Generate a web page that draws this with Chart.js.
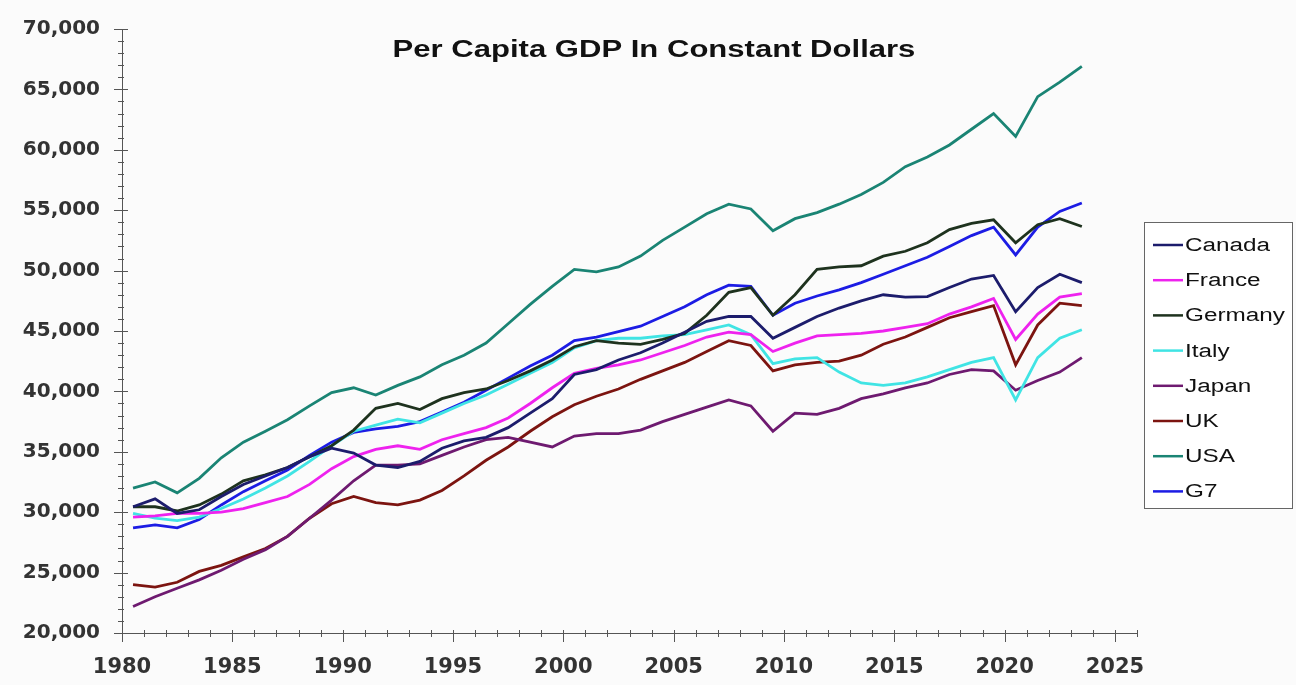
<!DOCTYPE html>
<html>
<head>
<meta charset="utf-8">
<script src="https://cdn.jsdelivr.net/npm/chart.js@4/dist/chart.umd.min.js"></script>
<style>
  html, body { margin: 0; padding: 0; background: #fbfbfb; }
  #wrap { width: 1296px; height: 685px; }
</style>
</head>
<body>
<div id="wrap"><canvas id="myChart" width="1296" height="685"></canvas></div>
<script>
// annual values, plotted mid-year
const years = [1980, 1981, 1982, 1983, 1984, 1985, 1986, 1987, 1988, 1989,
  1990, 1991, 1992, 1993, 1994, 1995, 1996, 1997, 1998, 1999,
  2000, 2001, 2002, 2003, 2004, 2005, 2006, 2007, 2008, 2009,
  2010, 2011, 2012, 2013, 2014, 2015, 2016, 2017, 2018, 2019,
  2020, 2021, 2022, 2023];

const canada = [30450, 31100, 29900, 30200, 31300, 32300, 33000, 33700, 34600, 35300,
  34900, 33900, 33700, 34200, 35300, 35900, 36200, 37000, 38200, 39400,
  41400, 41800, 42600, 43200, 44000, 44900, 45800, 46200, 46200, 44400,
  45300, 46200, 46900, 47500, 48000, 47800, 47850, 48600, 49300, 49600,
  46600, 48600, 49700, 49000];
const france = [29600, 29700, 29900, 29900, 30000, 30300, 30800, 31300, 32300, 33600,
  34600, 35200, 35500, 35200, 36000, 36500, 37000, 37800, 39000, 40300,
  41500, 41900, 42200, 42600, 43200, 43800, 44500, 44900, 44700, 43300,
  44000, 44600, 44700, 44800, 45000, 45300, 45600, 46400, 47000, 47700,
  44300, 46400, 47800, 48100];
const germany = [30450, 30450, 30100, 30600, 31500, 32600, 33100, 33700, 34600, 35500,
  36800, 38600, 39000, 38500, 39400, 39900, 40200, 40900, 41700, 42600,
  43700, 44200, 44000, 43900, 44300, 44800, 46300, 48200, 48600, 46300,
  48000, 50100, 50300, 50400, 51200, 51600, 52300, 53400, 53900, 54200,
  52300, 53800, 54300, 53650];
const italy = [29900, 29500, 29300, 29600, 30300, 31100, 32000, 33000, 34200, 35500,
  36700, 37200, 37700, 37400, 38200, 39000, 39700, 40600, 41500, 42400,
  43600, 44200, 44400, 44400, 44600, 44700, 45100, 45500, 44700, 42300,
  42700, 42800, 41600, 40700, 40500, 40700, 41200, 41800, 42400, 42800,
  39300, 42800, 44400, 45100];
const japan = [22200, 23000, 23700, 24400, 25200, 26100, 26900, 28000, 29500, 31000,
  32600, 33900, 33900, 34000, 34700, 35400, 36000, 36200, 35800, 35400,
  36300, 36500, 36500, 36800, 37500, 38100, 38700, 39300, 38800, 36700,
  38200, 38100, 38600, 39400, 39800, 40300, 40700, 41400, 41800, 41700,
  40100, 40900, 41600, 42800];
const uk = [24000, 23800, 24200, 25100, 25600, 26300, 27000, 28000, 29500, 30700,
  31300, 30800, 30600, 31000, 31800, 33000, 34300, 35400, 36700, 37900,
  38900, 39600, 40200, 41000, 41700, 42400, 43300, 44200, 43800, 41700,
  42200, 42400, 42500, 43000, 43900, 44500, 45300, 46100, 46600, 47100,
  42200, 45500, 47300, 47100];
const usa = [32000, 32500, 31600, 32800, 34500, 35800, 36700, 37650, 38800, 39900,
  40300, 39700, 40500, 41200, 42200, 43000, 44000, 45600, 47200, 48700,
  50100, 49900, 50300, 51200, 52500, 53600, 54700, 55500, 55100, 53300,
  54300, 54800, 55500, 56300, 57300, 58600, 59400, 60400, 61700, 63000,
  61100, 64400, 65600, 66900];
const g7 = [28700, 28950, 28700, 29400, 30600, 31700, 32600, 33500, 34700, 35800,
  36600, 36900, 37100, 37500, 38300, 39100, 40100, 41100, 42100, 43000,
  44200, 44500, 44950, 45400, 46200, 47000, 48000, 48800, 48700, 46300,
  47300, 47900, 48400, 49000, 49700, 50400, 51100, 52000, 52900, 53600,
  51300, 53600, 54900, 55600];

const names = ["Canada", "France", "Germany", "Italy", "Japan", "UK", "USA", "G7"];
const series = [canada, france, germany, italy, japan, uk, usa, g7];
const colors = ["#1c1c6c", "#ee22ee", "#1e321e", "#40e4e4", "#6e1a70", "#7c1410", "#1a8474", "#1c1ce4"];

const yTicks = [20000, 25000, 30000, 35000, 40000, 45000, 50000, 55000, 60000, 65000, 70000];
const xTicks = [1980, 1985, 1990, 1995, 2000, 2005, 2010, 2015, 2020, 2025];

const titleText = "Per Capita GDP In Constant Dollars";

function toPoints(vals) {
  return vals.map((v, i) => ({ x: years[i] + 0.5, y: v }));
}

// minor + major tick marks, drawn crossing the axes
const tickMarks = {
  id: "tickMarks",
  afterDraw(chart) {
    const ctx = chart.ctx;
    const xs = chart.scales.x, ys = chart.scales.y;
    const left = chart.chartArea.left, bottom = chart.chartArea.bottom;
    ctx.save();
    ctx.strokeStyle = "#555";
    ctx.lineWidth = 1;
    ctx.beginPath();
    for (let v = yTicks[0]; v <= yTicks[yTicks.length - 1]; v += 1000) {
      const py = Math.round(ys.getPixelForValue(v)) + 0.5;
      const major = yTicks.includes(v);
      ctx.moveTo(left - (major ? 8 : 4), py);
      ctx.lineTo(left + (major ? 6 : 2), py);
    }
    for (let v = xTicks[0]; v <= 2026; v++) {
      const px = Math.round(xs.getPixelForValue(v)) + 0.5;
      ctx.moveTo(px, bottom - 3);
      ctx.lineTo(px, bottom + (xTicks.includes(v) ? 9 : 4));
    }
    ctx.stroke();
    ctx.restore();
  },
};

// text in the reference is stretched sideways, so draw it scaled
function wideText(ctx, text, x, y, align) {
  const sx = 1.35;
  ctx.save();
  ctx.translate(x, y);
  ctx.scale(sx, 1);
  ctx.textAlign = align;
  ctx.fillText(text, 0, 0);
  ctx.restore();
}

// title inside the plot and boxed legend on the right
const extras = {
  id: "extras",
  afterDraw(chart) {
    const ctx = chart.ctx;
    ctx.save();
    ctx.fillStyle = "#111";
    ctx.font = "bold 23px 'Liberation Sans', Arial, sans-serif";
    ctx.textBaseline = "middle";
    wideText(ctx, titleText, 654, 51, "center");

    const bx = 1144.5, by = 222.5, bw = 148, bh = 286;
    ctx.fillStyle = "#fff";
    ctx.fillRect(bx, by, bw, bh);
    ctx.strokeStyle = "#666";
    ctx.lineWidth = 1;
    ctx.strokeRect(bx, by, bw, bh);

    ctx.font = "18px 'Liberation Sans', Arial, sans-serif";
    chart.data.datasets.forEach((ds, i) => {
      const ly = 245 + i * 35.2;
      ctx.strokeStyle = ds.borderColor;
      ctx.lineWidth = 2.5;
      ctx.beginPath();
      ctx.moveTo(1153, ly);
      ctx.lineTo(1183, ly);
      ctx.stroke();
      ctx.fillStyle = "#111";
      wideText(ctx, ds.label, 1185, ly + 1, "left");
    });
    ctx.restore();
  },
};

const ctx = document.getElementById("myChart").getContext("2d");
const myChart = new Chart(ctx, {
  type: "line",
  data: {
    datasets: names.map((n, i) => ({
      label: n,
      data: toPoints(series[i]),
      borderColor: colors[i],
      backgroundColor: colors[i],
      borderWidth: 2.8,
      pointRadius: 0,
      tension: 0,
      fill: false,
    })),
  },
  options: {
    responsive: false,
    animation: false,
    layout: { padding: { left: 0, right: 159, top: 29, bottom: 0 } },
    plugins: {
      legend: { display: false },
      tooltip: { enabled: false },
    },
    scales: {
      x: {
        type: "linear",
        min: 1980,
        max: 2026,
        grid: { display: false },
        border: { display: true, color: "#555", width: 1 },
        ticks: {
          stepSize: 5,
          includeBounds: false,
          autoSkip: false,
          maxRotation: 0,
          padding: 14,
          color: "#333",
          font: { family: "'DejaVu Sans', sans-serif", size: 21, weight: "bold" },
          callback: (v) => (xTicks.includes(v) ? String(v) : ""),
        },
        afterFit(scale) { scale.height = 52; },
      },
      y: {
        min: 20000,
        max: 70000,
        grid: { display: false },
        border: { display: true, color: "#555", width: 1 },
        ticks: {
          stepSize: 5000,
          padding: 14,
          color: "#333",
          font: { family: "'DejaVu Sans', sans-serif", size: 20, weight: "bold" },
          callback: (v) => v.toLocaleString("en-US"),
        },
        afterFit(scale) { scale.width = 122; },
      },
    },
  },
  plugins: [tickMarks, extras],
});
</script>
</body>
</html>
